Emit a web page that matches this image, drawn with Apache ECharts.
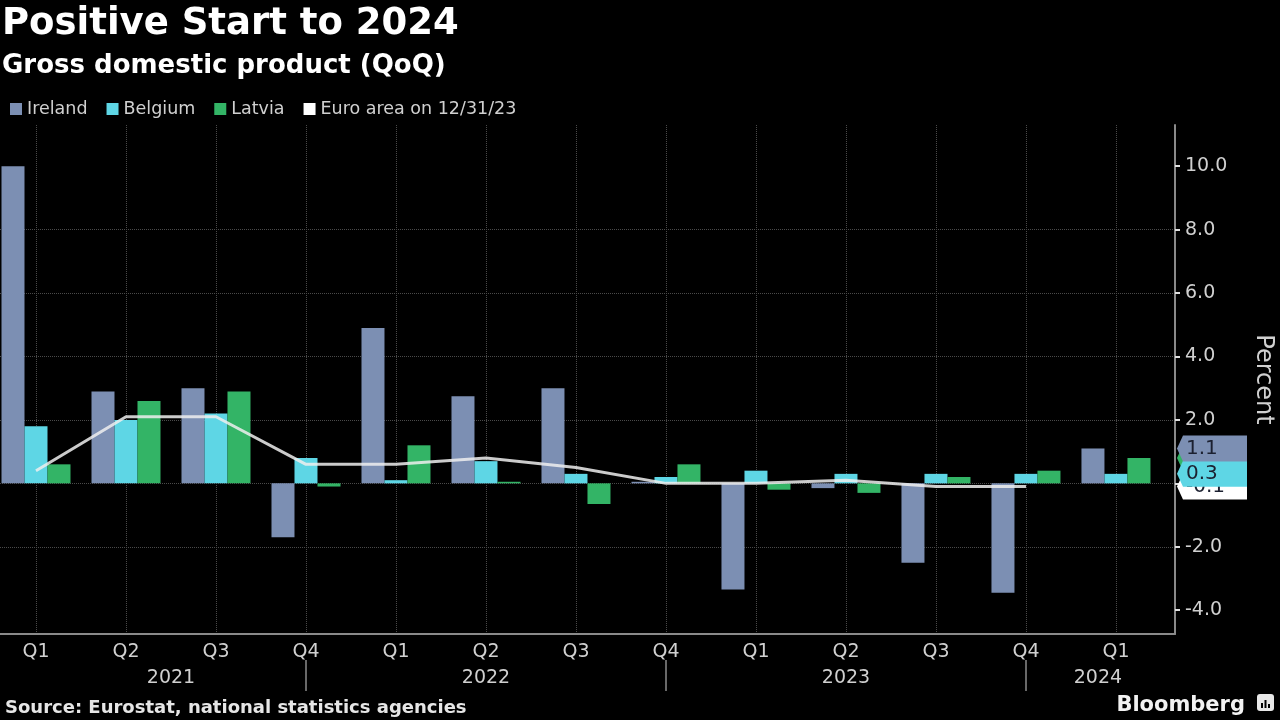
<!DOCTYPE html>
<html>
<head>
<meta charset="utf-8">
<script src="https://cdn.jsdelivr.net/npm/echarts@6/dist/echarts.min.js"></script>
<style>
  html, body { margin: 0; padding: 0; background: #000; }
  #chart { width: 1280px; height: 720px; }
</style>
</head>
<body>
<div id="chart"></div>
<script>
// ---------------- DATA ----------------
const quarters = ['Q1','Q2','Q3','Q4','Q1','Q2','Q3','Q4','Q1','Q2','Q3','Q4','Q1'];
const quarterYears = ['2021','2021','2021','2021','2022','2022','2022','2022','2023','2023','2023','2023','2024'];
const ireland  = [10.0, 2.9, 3.0, -1.7, 4.9, 2.75, 3.0, 0.05, -3.35, -0.15, -2.5, -3.45, 1.1];
const belgium  = [1.8, 2.0, 2.2, 0.8, 0.1, 0.7, 0.3, 0.2, 0.4, 0.3, 0.3, 0.3, 0.3];
const latvia   = [0.6, 2.6, 2.9, -0.1, 1.2, 0.05, -0.65, 0.6, -0.2, -0.3, 0.2, 0.4, 0.8];
const euroArea = [0.4, 2.1, 2.1, 0.6, 0.6, 0.8, 0.5, 0.0, 0.0, 0.1, -0.1, -0.1];
const yTickValues = [-4, -2, 0, 2, 4, 6, 8, 10];
const seriesNames = ['Ireland', 'Belgium', 'Latvia', 'Euro area on 12/31/23'];

// ---------------- STYLE / LAYOUT ----------------
const colors = { ireland: '#7c8fb3', belgium: '#5ed6e5', latvia: '#33b466', euro: '#eeeeee' };
const FONT = '"DejaVu Sans", sans-serif';
const xMin = -1, xMax = 12.656;
const yMin = -4.75, yMax = 11.3;
const axisGray = '#8a8a8a';
const labelColor = '#d0d0d0';
const BAR_W = 23;

const pairs = arr => arr.map((v, i) => [i, v]);

// year label positions: midpoints between year separators
const sepIdx = [];
for (let i = 0; i < quarterYears.length - 1; i++) if (quarterYears[i] !== quarterYears[i + 1]) sepIdx.push(i);
const yearNames = [...new Set(quarterYears)];
const bounds = [0, ...sepIdx, xMax];
const yearLabelMap = {};
yearNames.forEach((y, k) => { yearLabelMap[Math.round((bounds[k] + bounds[k + 1]) / 2 * 10)] = y; });

const tagPath = 'path://M0,13L6,0L70,0L70,26L6,26Z';
function tag(value, color, z, barShift) {
  return {
    symbol: tagPath, symbolSize: [70, 26], symbolOffset: [37 - barShift, 0], symbolKeepAspect: false,
    silent: true, z: z, animation: false,
    itemStyle: { color: color },
    label: { show: true, position: 'insideLeft', distance: 9, color: '#1b2030', fontSize: 20,
             fontFamily: FONT, formatter: () => value.toFixed(1) },
    data: [{ coord: [xMax, value], value: value }]
  };
}

const chart = echarts.init(document.getElementById('chart'), null, { renderer: 'canvas' });
const option = {
  backgroundColor: '#000',
  animation: false,
  textStyle: { fontFamily: FONT },
  title: [
    { text: 'Positive Start to 2024', left: -3, top: 1,
      textStyle: { color: '#fff', fontSize: 37, fontWeight: 'bold', fontFamily: FONT } },
    { text: 'Gross domestic product (QoQ)', left: -3, top: 48,
      textStyle: { color: '#fff', fontSize: 26, fontWeight: 'bold', fontFamily: FONT } },
    { text: 'Source: Eurostat, national statistics agencies', left: 0, top: 694,
      textStyle: { color: '#e6e6e6', fontSize: 18, fontWeight: 'bold', fontFamily: FONT } },
    { text: 'Bloomberg', right: 30, top: 690,
      textStyle: { color: '#f2f2f2', fontSize: 21, fontWeight: 'bold', fontFamily: FONT } }
  ],
  graphic: [
    { type: 'rect', left: 1257, top: 694, shape: { width: 17, height: 17, r: 3 }, style: { fill: '#e8e8e8' } },
    { type: 'rect', left: 1261, top: 703, shape: { width: 2, height: 5 }, style: { fill: '#000' } },
    { type: 'rect', left: 1264.5, top: 700, shape: { width: 2, height: 8 }, style: { fill: '#000' } },
    { type: 'rect', left: 1268, top: 704, shape: { width: 2, height: 4 }, style: { fill: '#000' } }
  ],
  legend: {
    left: 5, top: 95, itemWidth: 12, itemHeight: 12, itemGap: 19,
    textStyle: { color: labelColor, fontSize: 17.5, fontFamily: FONT },
    data: [
      { name: seriesNames[0], icon: 'rect', itemStyle: { color: colors.ireland } },
      { name: seriesNames[1], icon: 'rect', itemStyle: { color: colors.belgium } },
      { name: seriesNames[2], icon: 'rect', itemStyle: { color: colors.latvia } },
      { name: seriesNames[3], icon: 'rect', itemStyle: { color: '#ffffff' } }
    ]
  },
  grid: [
    { left: -54, right: 105, top: 125, bottom: 86, containLabel: false, outerBoundsMode: 'none' },
    { left: 36, right: 164, top: 125, bottom: 86, containLabel: false, outerBoundsMode: 'none' }
  ],
  xAxis: [
    { // main axis: bars, line, quarter labels, vertical grid
      type: 'value', gridIndex: 0, position: 'bottom', min: xMin, max: xMax, interval: 1,
      axisLine: { show: true, onZero: false, lineStyle: { color: axisGray, width: 2 } },
      axisTick: { show: false },
      axisLabel: { color: labelColor, fontSize: 19, margin: 9, showMinLabel: true, showMaxLabel: true,
        formatter: v => { const r = Math.round(v); return (Math.abs(v - r) < 1e-6 && r >= 0 && r < quarters.length) ? quarters[r] : ''; } },
      splitLine: { show: true, lineStyle: { color: '#4a4a4a', type: 'dotted', width: 1 } }
    },
    { // year labels
      type: 'value', gridIndex: 0, position: 'bottom', offset: 0, min: xMin, max: xMax, interval: 0.1,
      axisLine: { show: false, onZero: false }, axisTick: { show: false }, splitLine: { show: false },
      axisLabel: { color: labelColor, fontSize: 19, margin: 35, showMinLabel: true, showMaxLabel: true,
        formatter: v => yearLabelMap[Math.round(v * 10)] || '' }
    },
    { // year separators
      type: 'category', gridIndex: 1, position: 'bottom', data: quarters, boundaryGap: false, offset: 26,
      axisLine: { show: false, onZero: false }, axisLabel: { show: false }, splitLine: { show: false },
      axisTick: { show: true, length: 31, lineStyle: { color: '#8a8a8a', width: 1.5 },
        interval: i => sepIdx.indexOf(i) >= 0 }
    }
  ],
  yAxis: [
    {
      type: 'value', gridIndex: 0, position: 'right', min: yMin, max: yMax, splitNumber: 8,
      axisLine: { show: true, onZero: false, lineStyle: { color: axisGray, width: 2 } },
      axisTick: { show: true, length: 5, customValues: yTickValues, lineStyle: { color: '#e0e0e0', width: 2 } },
      axisLabel: { color: labelColor, fontSize: 19, margin: 10, customValues: yTickValues,
        formatter: v => v.toFixed(1) },
      splitLine: { show: true, showMinLine: false, showMaxLine: false,
        lineStyle: { color: '#4a4a4a', type: 'dotted', width: 1 } },
      name: 'Percent', nameLocation: 'middle', nameRotate: -90, nameGap: 76,
      nameTextStyle: { color: labelColor, fontSize: 24, fontFamily: FONT }
    },
    { type: 'value', gridIndex: 1, show: false }
  ],
  series: [
    { name: seriesNames[0], type: 'bar', xAxisIndex: 0, yAxisIndex: 0, data: pairs(ireland),
      barWidth: BAR_W, barGap: '0%', itemStyle: { color: colors.ireland },
      markPoint: tag(ireland[ireland.length - 1], colors.ireland, 8, -BAR_W) },
    { name: seriesNames[1], type: 'bar', xAxisIndex: 0, yAxisIndex: 0, data: pairs(belgium),
      barWidth: BAR_W, barGap: '0%', itemStyle: { color: colors.belgium },
      markPoint: tag(belgium[belgium.length - 1], colors.belgium, 7, 0) },
    { name: seriesNames[2], type: 'bar', xAxisIndex: 0, yAxisIndex: 0, data: pairs(latvia),
      barWidth: BAR_W, barGap: '0%', itemStyle: { color: colors.latvia },
      markPoint: tag(latvia[latvia.length - 1], colors.latvia, 6, BAR_W) },
    { name: seriesNames[3], type: 'line', xAxisIndex: 0, yAxisIndex: 0, data: pairs(euroArea),
      symbol: 'none', z: 4,
      lineStyle: { color: colors.euro, width: 3, opacity: 0.85 }, itemStyle: { color: '#ffffff' },
      markPoint: tag(euroArea[euroArea.length - 1], '#ffffff', 5, 0) }
  ]
};
chart.setOption(option);
</script>
</body>
</html>
